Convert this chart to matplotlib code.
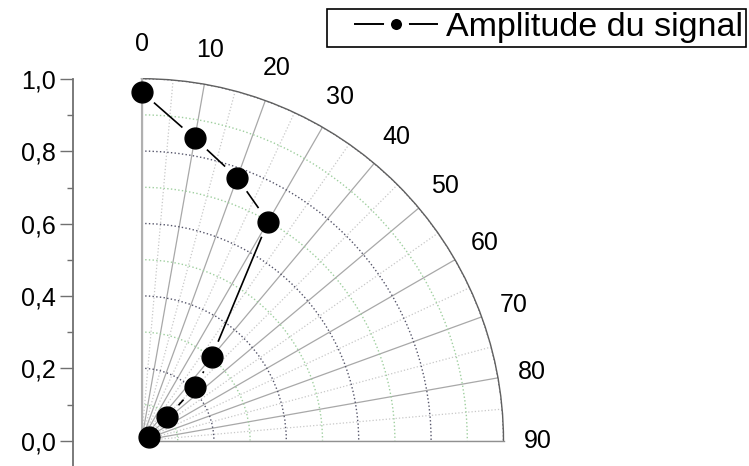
import numpy as np
import matplotlib.pyplot as plt
from matplotlib.lines import Line2D
from matplotlib.legend_handler import HandlerLine2D
from matplotlib.ticker import FixedLocator, FuncFormatter

plt.rcParams["font.family"] = ["Liberation Sans", "DejaVu Sans"]

# signal amplitude vs angle (degrees)
angles_deg = [0, 10, 20, 30, 40, 45, 48, 60]
amplitude = [0.964, 0.848, 0.773, 0.699, 0.302, 0.208, 0.096, 0.023]
theta_labels = ["0", "10", "20", "30", "40", "50", "60", "70", "80", "90"]
y_ticks = [0.0, 0.2, 0.4, 0.6, 0.8, 1.0]

W, H = 749, 466
fig = plt.figure(figsize=(W / 100, H / 100), dpi=100)

# pixel geometry of the quarter disc
ox, oy, R = 141.5, 440.7, 362.0

# left linear scale for the radius
axl = fig.add_axes([73 / W, 0, 0.001, (H - 79) / H])
axl.set_ylim(-(H - oy) / R, 1.0)
axl.set_xticks([])
for s in ["top", "right", "bottom"]:
    axl.spines[s].set_visible(False)
axl.spines["left"].set_color("#707070")
axl.spines["left"].set_linewidth(1.3)
axl.yaxis.set_major_locator(FixedLocator(y_ticks))
axl.yaxis.set_minor_locator(FixedLocator([0.1, 0.3, 0.5, 0.7, 0.9]))
axl.yaxis.set_major_formatter(FuncFormatter(lambda v, p: f"{v:.1f}".replace(".", ",")))
axl.tick_params(axis="y", which="major", length=9.5, width=1.0, color="#707070",
                labelsize=18, pad=3)
axl.tick_params(axis="y", which="minor", length=4.5, width=1.0, color="#707070")
axl.patch.set_visible(False)

# quarter polar plot
ax = fig.add_axes([ox / W, (H - oy) / H, R / W, R / H], projection="polar")
ax.set_theta_zero_location("N")
ax.set_theta_direction(-1)
ax.set_thetamin(0)
ax.set_thetamax(90)
ax.set_rlim(0, 1.0)

ax.set_xticks(np.deg2rad(np.arange(0, 91, 10)))
ax.set_xticks(np.deg2rad(np.arange(5, 90, 10)), minor=True)
ax.set_xticklabels([])
ax.set_yticks([0.2, 0.4, 0.6, 0.8, 1.0])
ax.set_yticks([0.1, 0.3, 0.5, 0.7, 0.9], minor=True)
ax.set_yticklabels([])
ax.tick_params(axis="y", which="both", length=0)
ax.tick_params(axis="x", which="major", direction="in", length=5, color="#606060")
ax.tick_params(axis="x", which="minor", direction="in", length=3, color="#606060")

ax.xaxis.grid(True, which="major", color="#a8a8a8", linestyle="-", linewidth=0.9)
ax.xaxis.grid(True, which="minor", color="#c8c8c8", linestyle=":", linewidth=0.9)
ax.yaxis.grid(True, which="major", color="#55556a", linestyle=":", linewidth=1.0)
ax.yaxis.grid(True, which="minor", color="#9fcf9f", linestyle=":", linewidth=1.0)

ax.spines["polar"].set_color("#606060")
ax.spines["polar"].set_linewidth(1.0)
ax.spines["start"].set_color("#b0b0b0")
ax.spines["start"].set_linewidth(1.5)
ax.spines["end"].set_color("#909090")
ax.spines["end"].set_linewidth(1.0)
ax.spines["inner"].set_visible(False)

for lab, a in zip(theta_labels, range(0, 91, 10)):
    ax.text(np.deg2rad(a), 1.095, lab, ha="center", va="center",
            fontsize=18, clip_on=False)

# connecting segments stop short of each marker
th = np.deg2rad(angles_deg)
r = np.asarray(amplitude)
xc, yc = r * np.sin(th), r * np.cos(th)
gap = 16.5 / R
for i in range(len(r) - 1):
    dx, dy = xc[i + 1] - xc[i], yc[i + 1] - yc[i]
    d = np.hypot(dx, dy)
    if d <= 2 * gap:
        continue
    ux, uy = dx / d, dy / d
    sx = np.array([xc[i] + ux * gap, xc[i + 1] - ux * gap])
    sy = np.array([yc[i] + uy * gap, yc[i + 1] - uy * gap])
    ax.plot(np.arctan2(sx, sy), np.hypot(sx, sy), color="black",
            linewidth=1.2, solid_capstyle="butt", zorder=4)

ax.plot(th, r, linestyle="none", marker="o", markersize=15,
        markerfacecolor="black", markeredgecolor="black", clip_on=False,
        zorder=5)


class GapLineHandler(HandlerLine2D):
    # line drawn from an inset start, marker in the middle of it
    def get_xdata(self, legend, xdescent, ydescent, width, height, fontsize):
        start = -xdescent + 0.75 * fontsize
        end = -xdescent + width
        return [start, end], [0.5 * (start + end)]


proxy = Line2D([], [], color="black", linewidth=1.4, marker="o", markersize=13,
               markerfacecolor="black", markeredgecolor="white",
               markeredgewidth=5)
leg = fig.legend([proxy], ["Amplitude du signal"], loc="upper right",
                 bbox_to_anchor=(746 / W, 1 - 9 / H), fontsize=24.5,
                 handlelength=3.15, handletextpad=0.25, borderpad=0.1,
                 borderaxespad=0, fancybox=False, framealpha=1,
                 handler_map={proxy: GapLineHandler()})
leg.get_frame().set_edgecolor("black")
leg.get_frame().set_linewidth(1.2)

fig.savefig("out.png", dpi=100)
